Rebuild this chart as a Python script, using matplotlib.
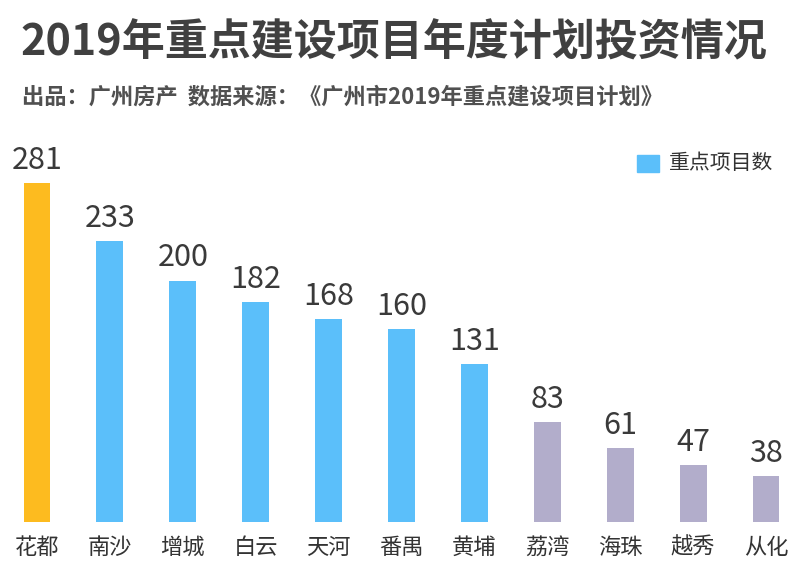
import numpy as np
from matplotlib import pyplot as plt
from matplotlib.patches import Rectangle

plt.rcParams['font.family'] = ['Noto Sans CJK SC', 'DejaVu Sans']

# 各区重点项目数
districts = ['花都', '南沙', '增城', '白云', '天河', '番禺', '黄埔', '荔湾', '海珠', '越秀', '从化']
counts = [281, 233, 200, 182, 168, 160, 131, 83, 61, 47, 38]
groups = ['top', 'mid', 'mid', 'mid', 'mid', 'mid', 'mid', 'low', 'low', 'low', 'low']
colors = {'top': '#FDBB1F', 'mid': '#5BBFFA', 'low': '#B2ADCB'}
legend_label = '重点项目数'
title = '2019年重点建设项目年度计划投资情况'
subtitle = '出品：广州房产  数据来源：《广州市2019年重点建设项目计划》'

fig = plt.figure(figsize=(8, 5.8), dpi=100)
ax = fig.add_axes([0.0, 0.1, 1.0, 339 / 580])

x = np.arange(len(districts))
ax.bar(x, counts, width=0.37, color=[colors[g] for g in groups])
for xi, c in zip(x, counts):
    ax.text(xi, c + 6, str(c), ha='center', va='bottom', fontsize=22,
            color='#3a3a3a', fontweight='medium')

ax.set_xlim(-37 / 72.9, 763 / 72.9)
ax.set_ylim(0, 281)
ax.set_xticks(x)
ax.set_xticklabels(districts, fontsize=16, color='#333333')
ax.tick_params(axis='x', length=0, pad=10)
ax.set_yticks([])
for s in ax.spines.values():
    s.set_visible(False)

fig.text(0.026, 0.926, title, fontsize=31, fontweight='bold', color='#404040',
         va='center', ha='left')
fig.text(0.028, 0.833, subtitle, fontsize=16, fontweight='bold', color='#505050',
         va='center', ha='left')

# 图例
fig.patches.append(Rectangle((637 / 800, 1 - 172 / 580), 22 / 800, 17 / 580,
                             transform=fig.transFigure, color=colors['mid']))
fig.text(669 / 800, 1 - 163 / 580, legend_label, fontsize=15, color='#333333',
         va='center', ha='left')

fig.savefig('out.png', dpi=100, facecolor='white')
